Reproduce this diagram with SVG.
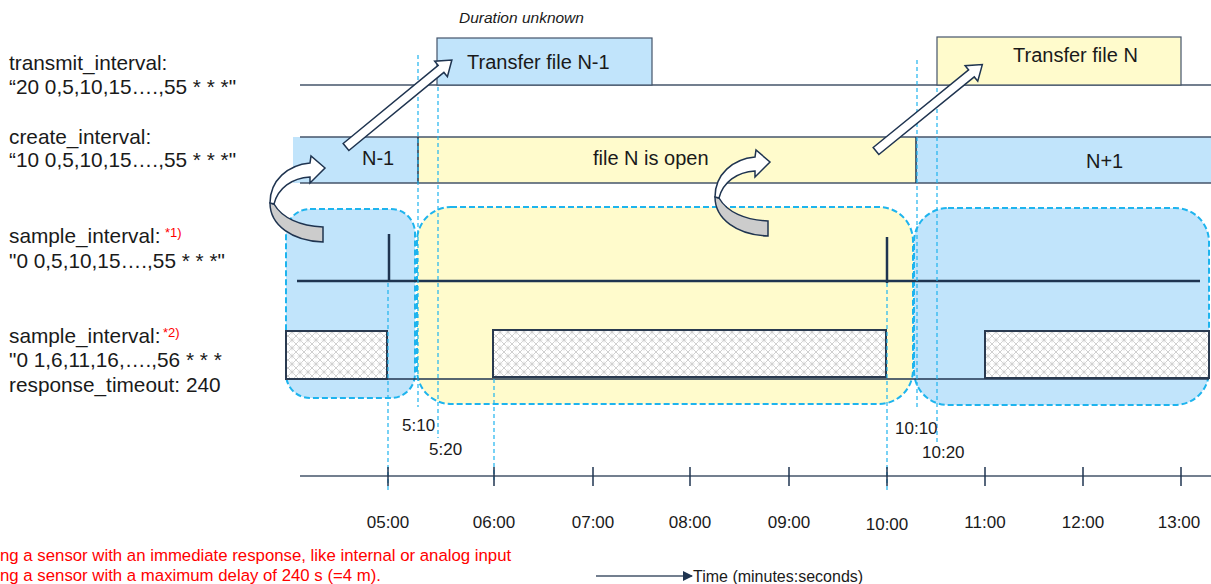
<svg xmlns="http://www.w3.org/2000/svg" width="1211" height="584" viewBox="0 0 1211 584">
<style>
text{font-family:"Liberation Sans",Arial,sans-serif;fill:#1a1a1a}
.lbl{font-size:20px}
.ll{font-size:20.8px}
.sup{font-size:13px;fill:#ff0000}
.t{font-size:17px;text-anchor:middle}
.tm{font-size:17px}
.red{font-size:16.8px;fill:#ff0000}
.blue{fill:#c1e4fb}
.yel{fill:#fffbcc}
.reg{stroke:#1eb4ee;stroke-width:2;stroke-dasharray:6,3}
.vd{stroke:#1eb4ee;stroke-width:1.2;stroke-dasharray:4,3;fill:none}
.ln{stroke:#44546a;stroke-width:1.5;fill:none}
.dk{stroke:#1f3450;fill:none}
.hbox{fill:url(#hatch);stroke:#2a3a50;stroke-width:2}
.arr{fill:#fff;stroke:#1f3450;stroke-width:1.5}
.gry{fill:#cccccc;stroke:#1f3450;stroke-width:1.5}
</style>
<defs>
<pattern id="hatch" width="8" height="8" patternUnits="userSpaceOnUse">
<rect width="8" height="8" fill="#fff"/>
<path d="M0,0 L8,8 M8,0 L0,8" stroke="#d0d0d0" stroke-width="1"/>
<circle cx="4" cy="4" r="2" fill="none" stroke="#dddddd" stroke-width="0.8"/>
</pattern>
<path id="blk" d="M0,-4.5 H123 V-10 L137,0 L123,10 V4.5 H0 Z"/>
<g id="curv">
<path class="gry" d="M270,203 C270,225 292,241 323,242 L323,227 C300,226 282,218 274,204 Z"/>
<path class="arr" d="M270,203 C270,180 288,165 310,163 L311,156 L325,168 L310,183 L310,177 C292,178 278,188 274,204 Z"/>
</g>
<marker id="tri" markerWidth="10" markerHeight="10" refX="9" refY="5" orient="auto" markerUnits="userSpaceOnUse">
<path d="M0,0 L10,5 L0,10 Z" fill="#1f3450"/>
</marker>
</defs>

<g id="labels">
<text class="ll" x="9" y="70">transmit_interval:</text>
<text class="ll" x="9" y="94">“20 0,5,10,15….,55 * * *"</text>
<text class="ll" x="9" y="144">create_interval:</text>
<text class="ll" x="9" y="167">“10 0,5,10,15….,55 * * *"</text>
<text class="ll" x="9" y="243">sample_interval:</text>
<text class="sup" x="165" y="237">*1)</text>
<text class="ll" x="9" y="268">"0 0,5,10,15….,55 * * *"</text>
<text class="ll" x="9" y="343">sample_interval:</text>
<text class="sup" x="163" y="337">*2)</text>
<text class="ll" x="9" y="367">"0 1,6,11,16,….,56 * * *</text>
<text class="ll" x="9" y="392">response_timeout: 240</text>
</g>

<g id="regions">
<rect id="regionA" class="blue reg" x="286" y="209" width="129" height="189" rx="24"/>
<rect id="regionB" class="yel reg" x="417" y="207" width="496" height="197" rx="34"/>
<rect id="regionC" class="blue reg" x="914" y="208" width="295" height="197" rx="34"/>
</g>

<g id="transfer-row">
<line class="ln" x1="300" y1="85" x2="1211" y2="85"/>
<g id="transferN1">
<rect class="blue" x="437" y="38" width="215" height="47" stroke="#44546a" stroke-width="1.2"/>
<text class="lbl" x="467" y="69">Transfer file N-1</text>
</g>
<g id="transferN">
<rect class="yel" x="937" y="37" width="244" height="48" stroke="#44546a" stroke-width="1.2"/>
<text class="lbl" x="1013" y="62">Transfer file N</text>
</g>
<text x="459" y="23" style="font-size:15.5px;font-style:italic">Duration unknown</text>
</g>

<g id="create-row">
<rect class="blue" x="293" y="137" width="125" height="46"/>
<rect class="yel" x="418" y="137" width="498" height="46"/>
<rect class="blue" x="916" y="137" width="295" height="46"/>
<line class="ln" x1="300" y1="137" x2="1211" y2="137"/>
<line class="ln" x1="300" y1="183" x2="1211" y2="183"/>
<line class="dk" stroke-width="1.5" x1="418" y1="137" x2="418" y2="183"/>
<line class="dk" stroke-width="1.5" x1="916" y1="137" x2="916" y2="183"/>
<text class="lbl" x="362" y="165">N-1</text>
<text class="lbl" x="593" y="165">file N is open</text>
<text class="lbl" x="1086" y="168">N+1</text>
</g>

<g id="sample1">
<line class="dk" stroke-width="2.5" x1="297" y1="281" x2="1200" y2="281"/>
<line class="dk" stroke-width="2.5" x1="389" y1="234" x2="389" y2="282"/>
<line class="dk" stroke-width="2.5" x1="887" y1="237" x2="887" y2="283"/>
</g>

<g id="sample2">
<line class="dk" stroke-width="1.5" x1="286" y1="379" x2="1209" y2="379"/>
<rect class="hbox" x="286" y="331" width="101" height="48"/>
<rect class="hbox" x="493" y="330" width="393" height="47"/>
<rect class="hbox" x="985" y="331" width="224" height="47"/>
</g>

<g id="guides">
<line class="vd" x1="388" y1="283" x2="388" y2="492"/>
<line class="vd" x1="418" y1="55" x2="418" y2="407"/>
<line class="vd" x1="438" y1="87" x2="438" y2="438"/>
<line class="vd" x1="494" y1="379" x2="494" y2="480"/>
<line class="vd" x1="887" y1="283" x2="887" y2="492"/>
<line class="vd" x1="917" y1="60" x2="917" y2="410"/>
<line class="vd" x1="937" y1="88" x2="937" y2="443"/>
</g>

<g id="connectors">
<use href="#curv"/>
<use href="#curv" transform="translate(445,-6)"/>
<use href="#blk" class="arr" transform="translate(346,147) rotate(-39.4)"/>
<use href="#blk" class="arr" transform="translate(876,151) rotate(-39.1)"/>
</g>

<g id="timeline">
<line class="ln" x1="300" y1="476" x2="1211" y2="476"/>
<g class="dk" stroke-width="1.5">
<line x1="388" y1="467" x2="388" y2="486"/>
<line x1="494" y1="467" x2="494" y2="486"/>
<line x1="593" y1="467" x2="593" y2="486"/>
<line x1="690" y1="467" x2="690" y2="486"/>
<line x1="789" y1="467" x2="789" y2="486"/>
<line x1="887" y1="467" x2="887" y2="486"/>
<line x1="985" y1="467" x2="985" y2="486"/>
<line x1="1083" y1="467" x2="1083" y2="486"/>
<line x1="1181" y1="467" x2="1181" y2="486"/>
</g>
<text class="t" x="388" y="528">05:00</text>
<text class="t" x="494" y="528">06:00</text>
<text class="t" x="593" y="528">07:00</text>
<text class="t" x="690" y="528">08:00</text>
<text class="t" x="789" y="528">09:00</text>
<text class="t" x="887" y="530">10:00</text>
<text class="t" x="985" y="528">11:00</text>
<text class="t" x="1083" y="528">12:00</text>
<text class="t" x="1179" y="528">13:00</text>
<text class="tm" x="402" y="431">5:10</text>
<text class="tm" x="429" y="455">5:20</text>
<text class="tm" x="895" y="434">10:10</text>
<text class="tm" x="922" y="458">10:20</text>
</g>

<g id="legend">
<line stroke="#44546a" stroke-width="1.5" x1="596" y1="576" x2="692" y2="576" marker-end="url(#tri)"/>
<text x="693" y="582" style="font-size:16px">Time (minutes:seconds)</text>
</g>

<g id="footnotes">
<text class="red" x="0" y="561">ng  a sensor with an immediate  response, like internal or analog input</text>
<text class="red" x="0" y="581">ng  a sensor with a maximum  delay of 240 s (=4 m).</text>
</g>
</svg>
